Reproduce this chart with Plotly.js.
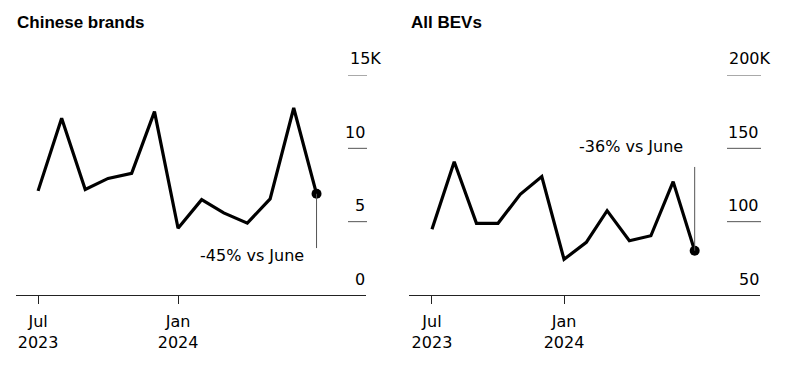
<!DOCTYPE html>
<html>
<head>
<meta charset="utf-8">
<script src="https://cdn.plot.ly/plotly-3.0.1.min.js"></script>
<style>html,body{margin:0;padding:0;background:#fff;}#chart{width:792px;height:377px;}</style>
</head>
<body>
<div id="chart"></div>
<script>
// Data (thousands of units)
const months = ['2023-07-01','2023-08-01','2023-09-01','2023-10-01','2023-11-01','2023-12-01',
                '2024-01-01','2024-02-01','2024-03-01','2024-04-01','2024-05-01','2024-06-01','2024-07-01'];
const chineseBrands = [7.1, 12.05, 7.2, 7.95, 8.3, 12.5, 4.55, 6.5, 5.6, 4.9, 6.55, 12.75, 6.9];
const allBEVs = [94.8, 140.9, 98.9, 98.9, 118.6, 130.7, 74.3, 85.9, 107.5, 87.0, 90.4, 127.3, 80.2];
const xTickVals = ['2023-07-01','2024-01-01'];
const xTickText = ['Jul<br>2023','Jan<br>2024'];
const leftTicks = [0, 5, 10, 15];
const leftTickText = ['0', '5', '10', '15K'];
const rightTicks = [50, 100, 150, 200];
const rightTickText = ['50', '100', '150', '200K'];
const titles = ['Chinese brands', 'All BEVs'];
const notes = ['-45% vs June', '-36% vs June'];

const W = 792, H = 377;
const px = v => v / W;
const py = v => 1 - v / H;
const FONT = 'DejaVu Sans, sans-serif';
const TFONT = 'Liberation Sans, Arial, sans-serif';

const n = months.length;
const traces = [
  {x: months, y: chineseBrands, xaxis: 'x', yaxis: 'y', mode: 'lines',
   line: {color: '#000', width: 3.2}, hoverinfo: 'skip'},
  {x: [months[n-1]], y: [chineseBrands[n-1]], xaxis: 'x', yaxis: 'y', mode: 'markers',
   marker: {color: '#000', size: 10}, cliponaxis: false, hoverinfo: 'skip'},
  {x: months, y: allBEVs, xaxis: 'x2', yaxis: 'y2', mode: 'lines',
   line: {color: '#000', width: 3.2}, hoverinfo: 'skip'},
  {x: [months[n-1]], y: [allBEVs[n-1]], xaxis: 'x2', yaxis: 'y2', mode: 'markers',
   marker: {color: '#000', size: 10}, cliponaxis: false, hoverinfo: 'skip'}
];

const xCommon = {
  type: 'date', showgrid: false, zeroline: false, showline: true, linecolor: '#222', linewidth: 1,
  ticks: 'outside', ticklen: 8, tickwidth: 1, tickcolor: '#222', ticklabelstandoff: 4,
  tickvals: xTickVals, ticktext: xTickText,
  tickfont: {family: FONT, size: 16, color: '#000'}, fixedrange: true
};
const yDom = [py(295), py(75)];

const shapes = [];
const annotations = [];
// y tick segments & labels
leftTicks.forEach((v, i) => {
  if (i > 0) shapes.push({type: 'line', xref: 'paper', yref: 'y', x0: px(348), x1: px(367), y0: v, y1: v,
    line: {color: '#555', width: 1}});
  annotations.push({xref: 'paper', yref: 'y', x: i === leftTicks.length - 1 ? px(348) : px(367), y: v,
    xanchor: i === leftTicks.length - 1 ? 'left' : 'right', yanchor: 'middle', yshift: 16, showarrow: false,
    text: leftTickText[i], font: {family: FONT, size: 16, color: '#000'}});
});
rightTicks.forEach((v, i) => {
  if (i > 0) shapes.push({type: 'line', xref: 'paper', yref: 'y2', x0: px(727), x1: px(761), y0: v, y1: v,
    line: {color: '#555', width: 1}});
  annotations.push({xref: 'paper', yref: 'y2', x: i === rightTicks.length - 1 ? px(727) : px(761), y: v,
    xanchor: i === rightTicks.length - 1 ? 'left' : 'right', yanchor: 'middle', yshift: 16, showarrow: false,
    text: rightTickText[i], font: {family: FONT, size: 16, color: '#000'}});
});
// titles
annotations.push({xref: 'paper', yref: 'paper', x: px(15), y: py(23), xanchor: 'left', yanchor: 'middle',
  showarrow: false, text: '<b>' + titles[0] + '</b>', font: {family: TFONT, size: 17, color: '#000'}});
annotations.push({xref: 'paper', yref: 'paper', x: px(409), y: py(23), xanchor: 'left', yanchor: 'middle',
  showarrow: false, text: '<b>' + titles[1] + '</b>', font: {family: TFONT, size: 17, color: '#000'}});
// callouts
shapes.push({type: 'line', xref: 'x', yref: 'y', x0: months[n-1], x1: months[n-1],
  y0: chineseBrands[n-1], y1: chineseBrands[n-1] - 3.7, line: {color: '#555', width: 1}});
annotations.push({xref: 'x', yref: 'y', x: months[n-1], y: chineseBrands[n-1], xanchor: 'right', yanchor: 'middle',
  xshift: -11, yshift: -62, showarrow: false, text: notes[0], font: {family: FONT, size: 16, color: '#000'}});
shapes.push({type: 'line', xref: 'x2', yref: 'y2', x0: months[n-1], x1: months[n-1],
  y0: allBEVs[n-1], y1: 137.3, line: {color: '#555', width: 1}});
annotations.push({xref: 'x2', yref: 'y2', x: months[n-1], y: allBEVs[n-1], xanchor: 'right', yanchor: 'middle',
  xshift: -10, yshift: 104, showarrow: false, text: notes[1], font: {family: FONT, size: 16, color: '#000'}});

const layout = {
  width: W, height: H, margin: {l: 0, r: 0, t: 0, b: 0},
  paper_bgcolor: '#fff', plot_bgcolor: 'rgba(0,0,0,0)', showlegend: false,
  xaxis: Object.assign({}, xCommon, {domain: [px(16), px(366)], range: ['2023-06-02', '2024-09-04'], anchor: 'y'}),
  xaxis2: Object.assign({}, xCommon, {domain: [px(409), px(760)], range: ['2023-05-30', '2024-09-30'], anchor: 'y2'}),
  yaxis: {domain: yDom, range: [0, 15], visible: false, fixedrange: true, anchor: 'x'},
  yaxis2: {domain: yDom, range: [50, 200], visible: false, fixedrange: true, anchor: 'x2'},
  shapes: shapes, annotations: annotations
};
Plotly.newPlot('chart', traces, layout, {staticPlot: true, displayModeBar: false});
</script>
</body>
</html>
